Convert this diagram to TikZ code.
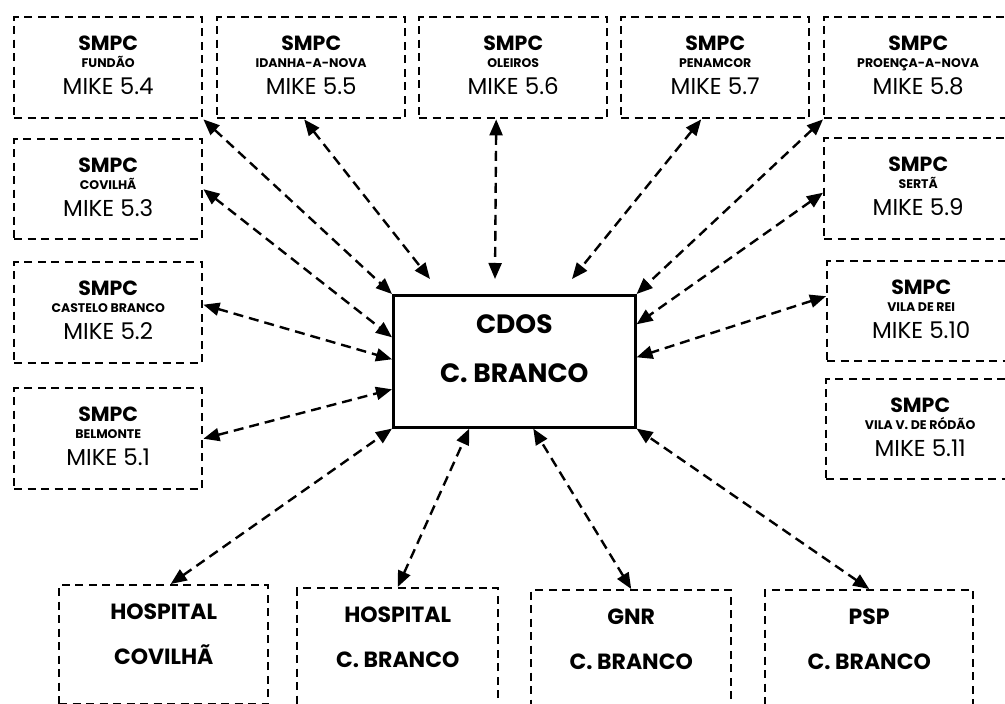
\documentclass[tikz,border=0pt]{standalone}
\usepackage{fontspec}
\setmainfont{Poppins}
\usetikzlibrary{arrows.meta}
\newcommand{\smpcbox}[6]{%
  \node[box, minimum width=188pt, minimum height=#6pt] (#1) at (#2,#3) {};
  \node[smpctxt] (#1-a) at ([yshift=-34pt]#1.north) {SMPC};
  \node[subtxt] (#1-b) at ([yshift=-51pt]#1.north) {#4};
  \node[miketxt] (#1-c) at ([yshift=-78pt]#1.north) {#5};
}
\newcommand{\orgbox}[7]{%
  \node[box, minimum width=#6pt, minimum height=#7pt] (#1) at (#2,#3) {};
  \node[bigtxt] (#1-a) at ([yshift=-35pt]#1.north) {#4};
  \node[bigtxt] (#1-b) at ([yshift=-80pt]#1.north) {#5};
}
\begin{document}
\begin{tikzpicture}[x=1pt,y=-1pt,
  box/.style={draw, rectangle, anchor=north west, inner sep=0pt, line width=2.4pt,
              dash pattern=on 8pt off 5.5pt},
  cdosbox/.style={draw, rectangle, anchor=north west, inner sep=0pt, line width=2.6pt},
  smpctxt/.style={anchor=base, inner sep=0pt, font=\fontsize{20.5}{22}\selectfont\bfseries},
  subtxt/.style={anchor=base, inner sep=0pt, font=\fontsize{12.5}{13}\selectfont\bfseries},
  miketxt/.style={anchor=base, inner sep=0pt, font=\fontsize{23}{25}\selectfont},
  bigtxt/.style={anchor=base, inner sep=0pt, font=\fontsize{22}{24}\selectfont\bfseries},
  cdostxt/.style={anchor=base, inner sep=0pt, font=\fontsize{26.5}{28}\selectfont\bfseries},
  conn/.style={{Triangle[length=16pt,width=13pt]}-{Triangle[length=16pt,width=13pt]},
               line width=2.4pt, dash pattern=on 10pt off 6pt}
]
\useasboundingbox (0,0) rectangle (1005,704);

% top row
\smpcbox{fundao}{13}{16}{FUNDÃO}{MIKE 5.4}{101}
\smpcbox{idanha}{216}{16}{IDANHA-A-NOVA}{MIKE 5.5}{101}
\smpcbox{oleiros}{418}{16}{OLEIROS}{MIKE 5.6}{101}
\smpcbox{penamcor}{620}{16}{PENAMCOR}{MIKE 5.7}{101}
\smpcbox{proenca}{823}{16}{PROENÇA-A-NOVA}{MIKE 5.8}{101}
% left column
\smpcbox{covilha}{13}{138}{COVILHÃ}{MIKE 5.3}{100}
\smpcbox{castelo}{13}{261}{CASTELO BRANCO}{MIKE 5.2}{101}
\smpcbox{belmonte}{13}{387}{BELMONTE}{MIKE 5.1}{101}
% right column
\smpcbox{serta}{823}{137}{SERTÃ}{MIKE 5.9}{101}
\smpcbox{vilarei}{826}{260}{VILA DE REI}{MIKE 5.10}{100}
\smpcbox{rodao}{825}{378}{VILA V. DE RÓDÃO}{MIKE 5.11}{100}

% centre
\node[cdosbox, minimum width=242pt, minimum height=132pt] (cdos) at (392,294) {};
\node[cdostxt] (cdos-a) at ([yshift=-39pt]cdos.north) {CDOS};
\node[cdostxt] (cdos-b) at ([yshift=-88pt]cdos.north) {C. BRANCO};

% bottom row
\orgbox{hcov}{58}{584}{HOSPITAL}{COVILHÃ}{209}{119}
\orgbox{hcb}{296}{587}{HOSPITAL}{C. BRANCO}{201}{125}
\orgbox{gnr}{530}{589}{GNR}{C. BRANCO}{200}{125}
\orgbox{psp}{764}{589}{PSP}{C. BRANCO}{208}{125}

\coordinate (c2) at (430,279);
\coordinate (c3) at (495,279);
\coordinate (c4) at (572,279);

\draw[conn] (fundao.south east) -- (cdos.north west);
\draw[conn] ([xshift=-7pt]idanha.south) -- (c2);
\draw[conn] ([xshift=-17pt]oleiros.south) -- (c3);
\draw[conn] ([xshift=-14pt]penamcor.south) -- (c4);
\draw[conn] (proenca.south west) -- (cdos.north east);
\draw[conn] (covilha.east) -- ([yshift=24pt]cdos.west);
\draw[conn] ([yshift=8pt]castelo.east) -- ([yshift=2pt]cdos.west);
\draw[conn] (belmonte.east) -- ([yshift=-28pt]cdos.west);
\draw[conn] ([yshift=-4pt]serta.west) -- ([yshift=37pt]cdos.east);
\draw[conn] ([yshift=15pt]vilarei.west) -- ([yshift=4pt]cdos.east);
\draw[conn] ([xshift=7pt]hcov.north) -- (cdos.south west);
\draw[conn] (hcb.north) -- ([xshift=-45pt]cdos.south);
\draw[conn] (gnr.north) -- ([xshift=19pt]cdos.south);
\draw[conn] (psp.north) -- (cdos.south east);
\end{tikzpicture}
\end{document}
